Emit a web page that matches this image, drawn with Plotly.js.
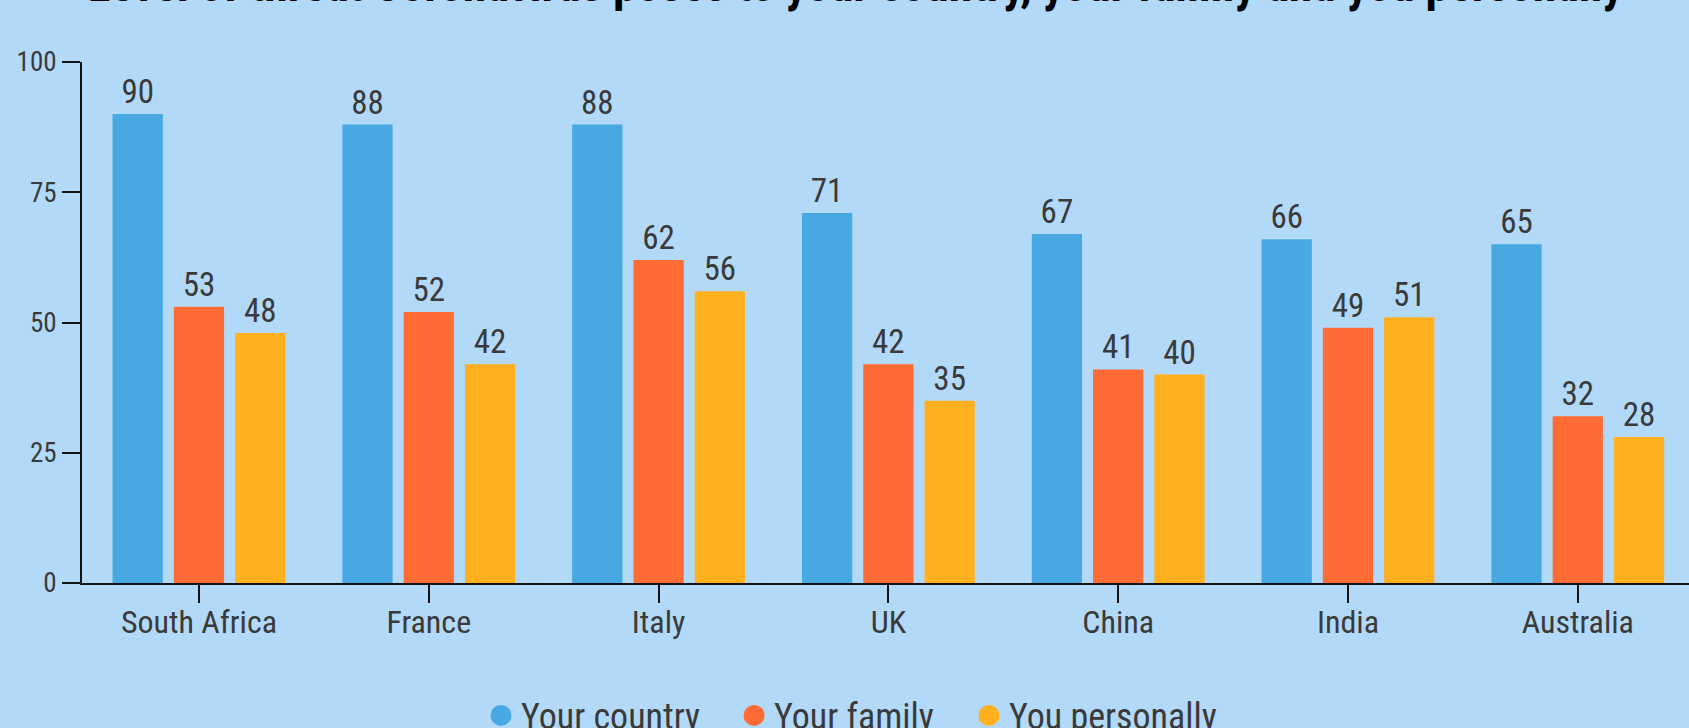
<!DOCTYPE html>
<html>
<head>
<meta charset="utf-8">
<script src="https://cdn.plot.ly/plotly-3.0.1.min.js"></script>
<style>
html,body{margin:0;padding:0;background:#b3d9f9;overflow:hidden;}
#chart{width:1689px;height:728px;}
</style>
</head>
<body>
<div id="chart"></div>
<script>
const countries = ["South Africa", "France", "Italy", "UK", "China", "India", "Australia"];
const yourCountry = [90, 88, 88, 71, 67, 66, 65];
const yourFamily = [53, 52, 62, 42, 41, 49, 32];
const youPersonally = [48, 42, 56, 35, 40, 51, 28];
const seriesNames = ["Your country", "Your family", "You personally"];
const colors = ["#48a9e2", "#ff6b35", "#ffb01f"];
const yTicks = [0, 25, 50, 75, 100];

const FONT = "'Roboto Condensed', 'Liberation Sans Narrow', 'Arial Narrow', Roboto, sans-serif";
const TXT = "#3a3a3a";
const seriesData = [yourCountry, yourFamily, youPersonally];
const legendIds = ["legend", "legend2", "legend3"];
const legendX = [0.2848, 0.4346, 0.5737];

const traces = [];
seriesData.forEach((vals, i) => {
  traces.push({
    type: "bar",
    x: countries,
    y: vals,
    name: seriesNames[i],
    marker: {color: colors[i]},
    text: vals.map(String),
    textposition: "outside",
    textfont: {family: FONT, size: 33, color: TXT},
    cliponaxis: false,
    showlegend: false,
    hoverinfo: "x+y+name"
  });
});
seriesNames.forEach((n, i) => {
  traces.push({
    type: "scatter",
    mode: "markers",
    x: [null],
    y: [null],
    name: n,
    legend: legendIds[i],
    marker: {color: colors[i], size: 16, symbol: "circle", line: {color: colors[i], width: 5}},
    showlegend: true
  });
});

function makeLegend(x) {
  return {
    orientation: "h",
    x: x, xref: "container", xanchor: "left",
    y: 0.0172, yref: "container", yanchor: "middle",
    font: {family: FONT, size: 36, color: TXT},
    bgcolor: "rgba(0,0,0,0)",
    borderwidth: 0
  };
}

const layout = {
  width: 1689,
  height: 728,
  paper_bgcolor: "#b3d9f9",
  plot_bgcolor: "#b3d9f9",
  font: {family: FONT, color: TXT},
  margin: {l: 82, r: 0, t: 62, b: 145, pad: 0, autoexpand: false},
  title: {
    text: "Level of threat Coronavirus poses to your country, your family and you personally",
    font: {family: FONT, size: 47.5, color: "#000", weight: "bold"},
    x: 0.5066, xref: "container", xanchor: "center",
    y: 0.9985, yref: "container", yanchor: "bottom"
  },
  barmode: "group",
  bargap: 0.2,
  bargroupgap: 0.18,
  xaxis: {
    type: "category",
    range: [-0.509, 6.484],
    showline: true, linecolor: "#111", linewidth: 2,
    ticks: "outside", ticklen: 18, tickwidth: 2, tickcolor: "#111",
    tickfont: {family: FONT, size: 32, color: TXT},
    ticklabelstandoff: -8,
    showgrid: false, zeroline: false,
    fixedrange: true
  },
  yaxis: {
    range: [0, 100],
    tickvals: yTicks,
    showline: true, linecolor: "#111", linewidth: 2,
    ticks: "outside", ticklen: 18, tickwidth: 2, tickcolor: "#111",
    tickfont: {family: FONT, size: 27, color: TXT},
    showgrid: false, zeroline: false,
    fixedrange: true
  },
  legend: makeLegend(legendX[0]),
  legend2: makeLegend(legendX[1]),
  legend3: makeLegend(legendX[2]),
  showlegend: true
};

Plotly.newPlot("chart", traces, layout, {displayModeBar: false, responsive: false});
</script>
</body>
</html>
